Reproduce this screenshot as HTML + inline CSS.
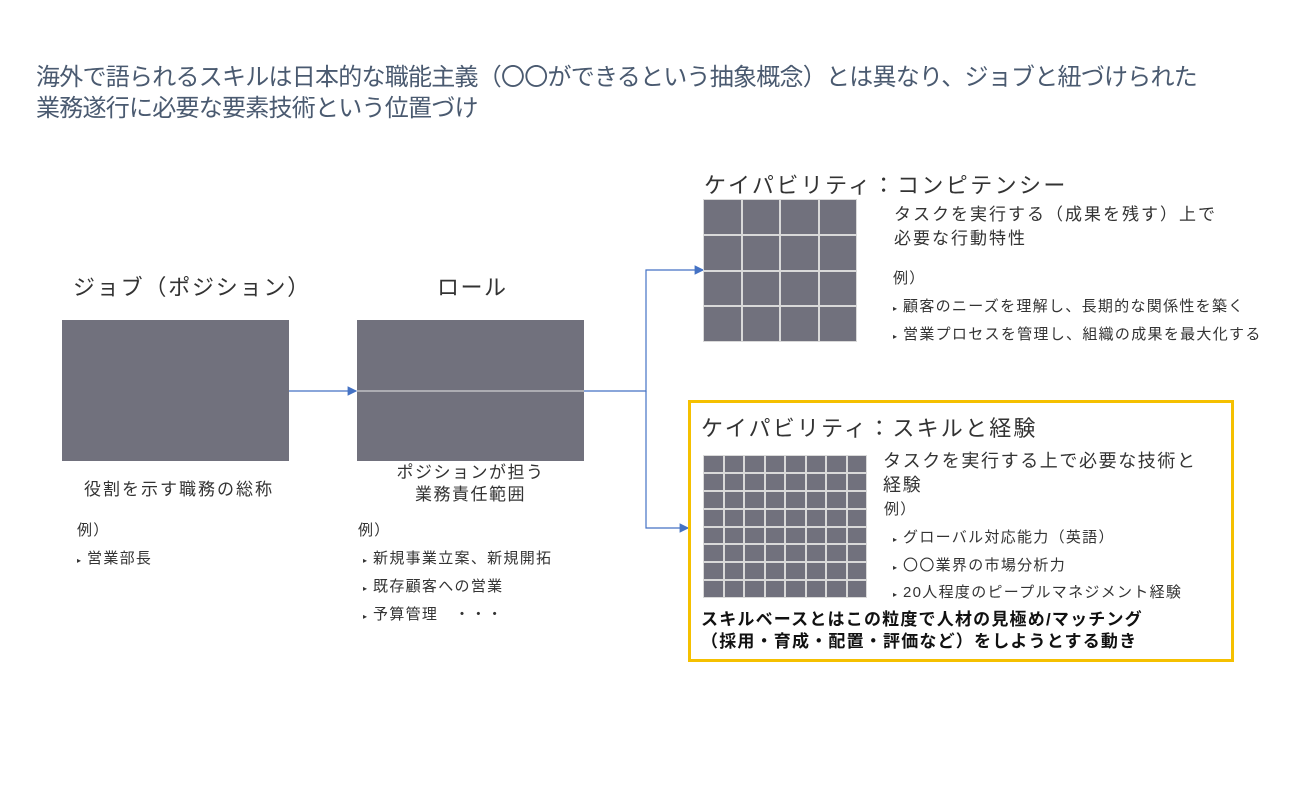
<!DOCTYPE html>
<html><head><meta charset="utf-8"><style>
body{margin:0;width:1300px;height:800px;background:#fff;position:relative;overflow:hidden;font-family:"Liberation Sans","Noto Sans CJK JP",sans-serif;color:#333}
.a{position:absolute;white-space:nowrap}
.box{position:absolute;background:#71717d}
.grid{position:absolute;display:grid;gap:2px;background:#d9d9d9;border:1px solid #d9d9d9}
.grid div{background:#71717d}
.s{font-size:15px;letter-spacing:1.3px;color:#333}
.b{font-size:8px;letter-spacing:0;margin-right:6px}
</style></head><body>
<div class="a" style="left:36px;top:62px;font-size:24px;line-height:31px;color:#4a5a70;letter-spacing:-0.75px">海外で語られるスキルは日本的な職能主義（〇〇ができるという抽象概念）とは異なり、ジョブと紐づけられた<br>業務遂行に必要な要素技術という位置づけ</div>

<div class="a" style="left:73px;top:270px;font-size:22px;letter-spacing:1.8px">ジョブ（ポジション）</div>
<div class="a" style="left:437px;top:270px;font-size:22px;letter-spacing:1.5px">ロール</div>
<div class="box" style="left:62px;top:320px;width:227px;height:141px"></div>
<div class="box" style="left:357px;top:320px;width:227px;height:141px"></div>

<svg class="a" style="left:0;top:0" width="1300" height="800">
<defs><marker id="m" markerWidth="8" markerHeight="8" refX="7" refY="4" orient="auto"><path d="M0,0 L8,4 L0,8z" fill="#4472c4"/></marker></defs>
<g stroke="#4472c4" stroke-width="1.2" fill="none">
<line x1="289" y1="391" x2="356" y2="391" marker-end="url(#m)"/>
<path d="M584,391 H646 V270 H703" marker-end="url(#m)"/>
<path d="M646,391 V528 H688" marker-end="url(#m)"/>
</g>
<line x1="357" y1="391" x2="584" y2="391" stroke="#e8e8e8" stroke-width="1"/>
</svg>

<div class="a" style="left:84px;top:475px;font-size:17px;letter-spacing:2px">役割を示す職務の総称</div>
<div class="a s" style="left:77px;top:519px">例）</div>
<div class="a s" style="left:77px;top:547px"><span class="b">▸</span>営業部長</div>

<div class="a" style="left:357px;top:462px;width:227px;text-align:center;font-size:17px;line-height:22px;letter-spacing:1.5px">ポジションが担う<br>業務責任範囲</div>
<div class="a s" style="left:358px;top:519px">例）</div>
<div class="a s" style="left:363px;top:547px"><span class="b">▸</span>新規事業立案、新規開拓</div>
<div class="a s" style="left:363px;top:575px"><span class="b">▸</span>既存顧客への営業</div>
<div class="a s" style="left:363px;top:603px"><span class="b">▸</span>予算管理　・・・</div>

<div class="a" style="left:704px;top:168px;font-size:22px;letter-spacing:2.4px">ケイパビリティ：コンピテンシー</div>
<div class="grid" style="left:703px;top:199px;width:152px;height:141px;grid-template-columns:repeat(4,1fr);grid-template-rows:repeat(4,1fr)">
<div></div><div></div><div></div><div></div><div></div><div></div><div></div><div></div><div></div><div></div><div></div><div></div><div></div><div></div><div></div><div></div></div>
<div class="a" style="left:894px;top:203px;font-size:17px;line-height:24px;letter-spacing:2px">タスクを実行する（成果を残す）上で<br>必要な行動特性</div>
<div class="a s" style="left:893px;top:267px">例）</div>
<div class="a s" style="left:893px;top:295px"><span class="b">▸</span>顧客のニーズを理解し、長期的な関係性を築く</div>
<div class="a s" style="left:893px;top:323px"><span class="b">▸</span>営業プロセスを管理し、組織の成果を最大化する</div>

<div class="a" style="left:688px;top:400px;width:540px;height:256px;border:3px solid #f5c000"></div>
<div class="a" style="left:701px;top:411px;font-size:22px;letter-spacing:2.2px">ケイパビリティ：スキルと経験</div>
<div class="grid" style="left:703px;top:455px;width:162px;height:141px;grid-template-columns:repeat(8,1fr);grid-template-rows:repeat(8,1fr)">
<div></div><div></div><div></div><div></div><div></div><div></div><div></div><div></div><div></div><div></div><div></div><div></div><div></div><div></div><div></div><div></div><div></div><div></div><div></div><div></div><div></div><div></div><div></div><div></div><div></div><div></div><div></div><div></div><div></div><div></div><div></div><div></div><div></div><div></div><div></div><div></div><div></div><div></div><div></div><div></div><div></div><div></div><div></div><div></div><div></div><div></div><div></div><div></div><div></div><div></div><div></div><div></div><div></div><div></div><div></div><div></div><div></div><div></div><div></div><div></div><div></div><div></div><div></div><div></div></div>
<div class="a" style="left:883px;top:449px;font-size:18px;line-height:24px;letter-spacing:1.6px">タスクを実行する上で必要な技術と<br>経験</div>
<div class="a s" style="left:884px;top:498px">例）</div>
<div class="a s" style="left:893px;top:526px"><span class="b">▸</span>グローバル対応能力（英語）</div>
<div class="a s" style="left:893px;top:554px"><span class="b">▸</span>〇〇業界の市場分析力</div>
<div class="a s" style="left:893px;top:581px"><span class="b">▸</span>20人程度のピープルマネジメント経験</div>
<div class="a" style="left:701px;top:609px;font-size:17px;line-height:22px;font-weight:bold;color:#111;letter-spacing:1.2px">スキルベースとはこの粒度で人材の見極め/マッチング<br>（採用・育成・配置・評価など）をしようとする動き</div>
</body></html>
